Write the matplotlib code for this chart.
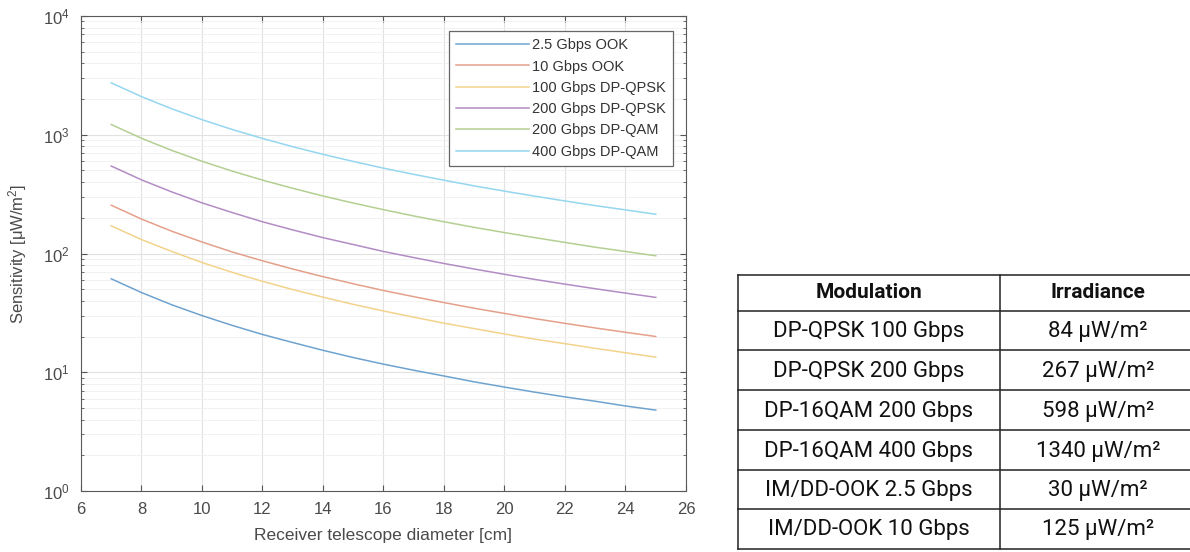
import matplotlib.pyplot as plt
import numpy as np

plt.rcParams['font.family'] = ['Liberation Sans', 'DejaVu Sans']
plt.rcParams['mathtext.fontset'] = 'custom'
plt.rcParams['mathtext.rm'] = 'Liberation Sans'
plt.rcParams['mathtext.it'] = 'Liberation Sans:italic'

# diametre du telescope [cm]
diam = [7, 8, 9, 10, 11, 12, 13, 14, 15, 16, 17, 18, 19, 20, 21, 22, 23, 24, 25]

# sensibilite [uW/m2]
ook_2g5 = [61.2, 46.9, 37.0, 30, 24.8, 20.8, 17.8, 15.3, 13.3, 11.7, 10.4, 9.3, 8.3, 7.5, 6.8, 6.2, 5.7, 5.2, 4.8]
ook_10 = [255, 195, 154, 125, 103, 86.8, 74.0, 63.8, 55.6, 48.8, 43.3, 38.6, 34.6, 31.3, 28.3, 25.8, 23.6, 21.7, 20.0]
qpsk_100 = [171, 131, 104, 84, 69.4, 58.3, 49.7, 42.9, 37.3, 32.8, 29.1, 25.9, 23.3, 21.0, 19.0, 17.4, 15.9, 14.6, 13.4]
qpsk_200 = [545, 417, 330, 267, 221, 185, 158, 136, 119, 104, 92.4, 82.4, 74.0, 66.8, 60.5, 55.2, 50.5, 46.4, 42.7]
qam_200 = [1220, 934, 738, 598, 494, 415, 354, 305, 266, 234, 207, 185, 166, 150, 136, 124, 113, 104, 95.7]
qam_400 = [2735, 2094, 1654, 1340, 1107, 931, 793, 684, 596, 523, 464, 414, 371, 335, 304, 277, 253, 233, 214]

labels = ['2.5 Gbps OOK', '10 Gbps OOK', '100 Gbps DP-QPSK',
          '200 Gbps DP-QPSK', '200 Gbps DP-QAM', '400 Gbps DP-QAM']
colors = ['#6fa3cf', '#e4a08a', '#f3d38c', '#b38cc4', '#b3cf92', '#95d6f0']

# tableau
modulations = ['DP-QPSK 100 Gbps', 'DP-QPSK 200 Gbps', 'DP-16QAM 200 Gbps',
               'DP-16QAM 400 Gbps', 'IM/DD-OOK 2.5 Gbps', 'IM/DD-OOK 10 Gbps']
irradiance = [84, 267, 598, 1340, 30, 125]

fig = plt.figure(figsize=(11.9, 5.52), dpi=100)
ax = fig.add_axes([81/1190, 1-491/552, (686-81)/1190, (491-16)/552])

series = [ook_2g5, ook_10, qpsk_100, qpsk_200, qam_200, qam_400]
for s, lab, c in zip(series, labels, colors):
    ax.plot(diam, s, color=c, lw=1.1, label=lab)

ax.set_yscale('log')
ax.set_xlim(6, 26)
ax.set_ylim(1, 1e4)
ax.set_xticks(range(6, 27, 2))
ax.grid(True, which='major', color='#e2e2e2', lw=0.8)
ax.grid(True, which='minor', axis='y', color='#f0f0f0', lw=0.6)
ax.set_axisbelow(True)
ax.tick_params(which='both', direction='in', top=True, right=True, colors='#555555',
               labelcolor='#4a4a4a', labelsize=12)
ax.tick_params(which='major', length=4, pad=8)
ax.tick_params(which='minor', length=2)
for sp in ax.spines.values():
    sp.set_color('#5a5a5a')
ax.set_xlabel('Receiver telescope diameter [cm]', fontsize=12.5, color='#4a4a4a', labelpad=8)
ax.set_ylabel('Sensitivity [μW/m$^2$]', fontsize=12, color='#4a4a4a', labelpad=10)

leg = ax.legend(loc='upper right', bbox_to_anchor=(1-13/605, 1-15/475), fontsize=10.5,
                handlelength=5.0, handletextpad=0.2, labelspacing=0.5,
                borderpad=0.5, fancybox=False, framealpha=1, borderaxespad=0)
leg.get_frame().set_edgecolor('#666666')
leg.get_frame().set_linewidth(0.9)
for t in leg.get_texts():
    t.set_color('#333333')

# tableau dessine en pixels
tax = fig.add_axes([0, 0, 1, 1])
tax.set_xlim(0, 1190)
tax.set_ylim(552, 0)
tax.axis('off')
rows = [275, 311, 350, 390, 430, 470, 509, 549]
x0, xm, x1 = 738, 1000, 1196
for y in rows:
    tax.plot([x0, x1], [y, y], color='#222222', lw=1.1, clip_on=False)
for x in [x0, xm, x1]:
    tax.plot([x, x], [rows[0], rows[-1]], color='#222222', lw=1.1, clip_on=False)
tfont = ['Roboto', 'DejaVu Sans']
tax.text((x0+xm)/2, (rows[0]+rows[1])/2, 'Modulation', ha='center', va='center',
         fontsize=15, fontweight='bold', family=tfont, color='#111111')
tax.text((xm+x1)/2, (rows[0]+rows[1])/2, 'Irradiance', ha='center', va='center',
         fontsize=15, fontweight='bold', family=tfont, color='#111111')
for i, (m, v) in enumerate(zip(modulations, irradiance)):
    yc = (rows[i+1]+rows[i+2])/2 + 1
    tax.text((x0+xm)/2, yc, m, ha='center', va='center', fontsize=16,
             family=tfont, color='#111111')
    tax.text((xm+x1)/2, yc, f'{v} μW/m²', ha='center', va='center', fontsize=16,
             family=tfont, color='#111111')

fig.savefig('out.png', dpi=100)
